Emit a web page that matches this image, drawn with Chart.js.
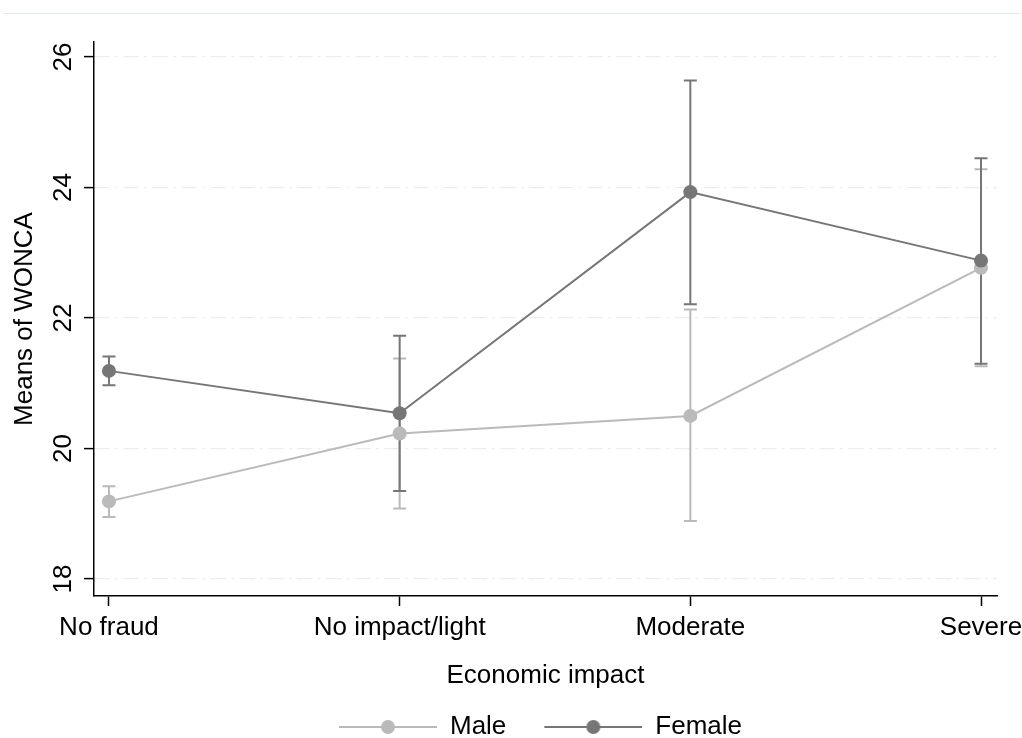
<!DOCTYPE html>
<html>
<head>
<meta charset="utf-8">
<script src="https://cdn.jsdelivr.net/npm/chart.js@4.4.1/dist/chart.umd.min.js"></script>
<style>
  body { margin: 0; background: #fff; }
  #wrap { position: relative; width: 1022px; height: 738px; }
  #topline { position: absolute; left: 4px; top: 13px; width: 1016px; height: 1px; background: #e2eaea; }
  canvas { display: block; position: relative; }
</style>
</head>
<body>
<div id="wrap">
  <div id="topline"></div>
  <canvas id="chart" width="1022" height="738"></canvas>
</div>
<script>
const categories = ['No fraud', 'No impact/light', 'Moderate', 'Severe'];
const yTicks = [18, 20, 22, 24, 26];

const maleMean = [19.19, 20.23, 20.50, 22.77];
const maleLow = [18.95, 19.08, 18.89, 21.26];
const maleHigh = [19.42, 21.38, 22.13, 24.28];

const femaleMean = [21.19, 20.54, 23.93, 22.88];
const femaleLow = [20.97, 19.35, 22.21, 21.30];
const femaleHigh = [21.41, 21.73, 25.64, 24.45];

const maleColor = '#bababa';
const femaleColor = '#767676';
const font = { family: '"Liberation Sans", Arial, sans-serif', size: 26, lineHeight: 1 };

// legend symbol: line with a dot, transparent strip on the left for spacing
function legendSymbol(color) {
  const c = document.createElement('canvas');
  c.width = 128;
  c.height = 16;
  const g = c.getContext('2d');
  g.strokeStyle = color;
  g.lineWidth = 2;
  g.beginPath();
  g.moveTo(30, 8);
  g.lineTo(128, 8);
  g.stroke();
  g.fillStyle = color;
  g.beginPath();
  g.arc(79, 8, 7, 0, Math.PI * 2);
  g.fill();
  return c;
}

const errorBars = {
  id: 'errorBars',
  beforeDatasetsDraw(chart) {
    const { ctx, scales: { x, y } } = chart;
    [[maleLow, maleHigh, maleColor], [femaleLow, femaleHigh, femaleColor]].forEach(([lo, hi, color]) => {
      ctx.save();
      ctx.strokeStyle = color;
      ctx.lineWidth = 2;
      lo.forEach((v, i) => {
        const px = x.getPixelForValue(i);
        const y1 = y.getPixelForValue(v);
        const y2 = y.getPixelForValue(hi[i]);
        ctx.beginPath();
        ctx.moveTo(px, y1); ctx.lineTo(px, y2);
        ctx.moveTo(px - 6.5, y1); ctx.lineTo(px + 6.5, y1);
        ctx.moveTo(px - 6.5, y2); ctx.lineTo(px + 6.5, y2);
        ctx.stroke();
      });
      ctx.restore();
    });
  }
};

// center the legend on the plot region instead of the whole canvas
const legendShift = {
  id: 'legendShift',
  afterLayout(chart) {
    chart.legend.left += 27;
    chart.legend.right += 27;
  }
};

new Chart(document.getElementById('chart'), {
  type: 'line',
  data: {
    datasets: [
      {
        label: 'Male',
        data: maleMean.map((v, i) => ({ x: i, y: v })),
        borderColor: maleColor,
        backgroundColor: maleColor,
        borderWidth: 2,
        pointRadius: 7,
        pointBorderWidth: 0,
        order: 1
      },
      {
        label: 'Female',
        data: femaleMean.map((v, i) => ({ x: i, y: v })),
        borderColor: femaleColor,
        backgroundColor: femaleColor,
        borderWidth: 2,
        pointRadius: 7,
        pointBorderWidth: 0,
        order: 0
      }
    ]
  },
  options: {
    responsive: false,
    animation: false,
    layout: { padding: { top: 42, left: 0, right: 25, bottom: 0 } },
    plugins: {
      tooltip: { enabled: false },
      legend: {
        position: 'bottom',
        maxHeight: 32,
        labels: {
          usePointStyle: true,
          pointStyleWidth: 128,
          padding: 8,
          color: '#000',
          font: font,
          generateLabels: () => [
            { text: 'Male', pointStyle: legendSymbol(maleColor), fillStyle: maleColor, strokeStyle: maleColor, lineWidth: 0, datasetIndex: 0, fontColor: '#000' },
            { text: 'Female', pointStyle: legendSymbol(femaleColor), fillStyle: femaleColor, strokeStyle: femaleColor, lineWidth: 0, datasetIndex: 1, fontColor: '#000' }
          ]
        }
      }
    },
    scales: {
      x: {
        type: 'linear',
        min: -0.0515,
        max: 3.055,
        afterBuildTicks: (scale) => { scale.ticks = categories.map((c, i) => ({ value: i })); },
        afterFit: (scale) => { scale.paddingLeft = 0; scale.paddingRight = 0; },
        ticks: {
          callback: (v) => categories[v],
          color: '#000',
          font: font,
          padding: 9,
          maxRotation: 0,
          autoSkip: false
        },
        grid: { drawOnChartArea: false, drawTicks: true, tickLength: 10, tickColor: '#000', tickWidth: 1.5 },
        border: { color: '#000', width: 1.5 },
        title: { display: true, text: 'Economic impact', color: '#000', font: font, padding: { top: 13, bottom: 17 } }
      },
      y: {
        min: 17.74,
        max: 26.23,
        afterBuildTicks: (scale) => { scale.ticks = yTicks.map(v => ({ value: v })); },
        ticks: {
          color: '#000',
          font: font,
          padding: 6,
          minRotation: 90,
          maxRotation: 90,
          crossAlign: 'center',
          autoSkip: false
        },
        grid: { color: '#eaeded', lineWidth: 1.2, tickLength: 10, tickColor: '#000', tickWidth: 1.5 },
        border: { color: '#000', width: 1.5, dash: [15, 6, 2, 6] },
        title: { display: true, text: 'Means of WONCA', color: '#000', font: font, padding: { top: 12, bottom: 8 } }
      }
    }
  },
  plugins: [errorBars, legendShift]
});
</script>
</body>
</html>
